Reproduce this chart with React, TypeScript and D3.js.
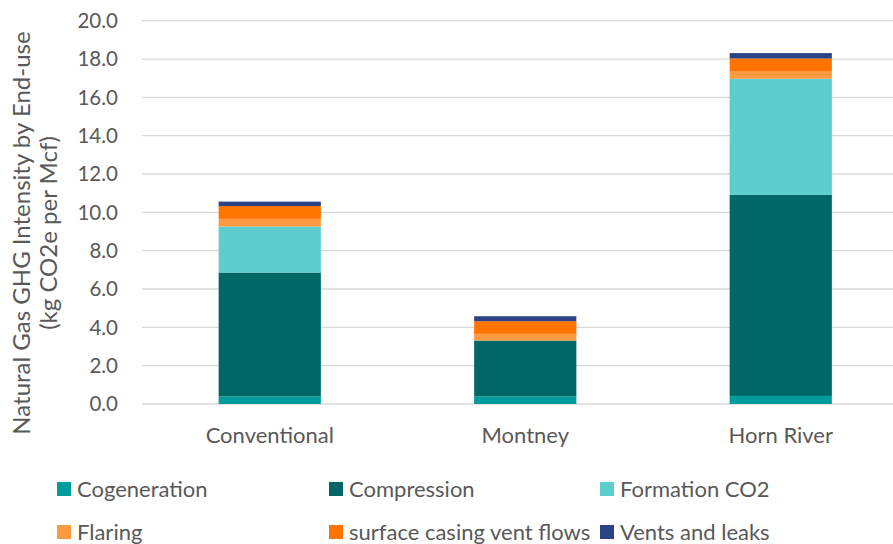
import React from "react";
import * as d3 from "d3";

const categories = ["Conventional", "Montney", "Horn River"];
const seriesNames = [
  "Cogeneration",
  "Compression",
  "Formation CO2",
  "Flaring",
  "surface casing vent flows",
  "Vents and leaks",
];
const cogeneration = [0.4, 0.4, 0.42];
const compression = [6.46, 2.91, 10.49];
const formationCO2 = [2.4, 0, 6.06];
const flaring = [0.4, 0.35, 0.37];
const surfaceCasing = [0.67, 0.66, 0.69];
const ventsLeaks = [0.23, 0.26, 0.28];
const yTicks = [0, 2, 4, 6, 8, 10, 12, 14, 16, 18, 20];
const colors = ["#009B9B", "#006666", "#5DCDCD", "#FF9A40", "#FF7300", "#2A4483"];

const W = 893;
const H = 544;
const FONT = "Lato, 'Open Sans', sans-serif";
const TEXT = "#595959";

export default function App() {
  const values = [cogeneration, compression, formationCO2, flaring, surfaceCasing, ventsLeaks];
  const rows = categories.map((c, i) => {
    const r: any = { cat: c };
    seriesNames.forEach((s, j) => (r[s] = values[j][i]));
    return r;
  });
  const stacked = d3.stack<any>().keys(seriesNames)(rows);

  const x = d3.scaleBand().domain(categories).range([142, 908.5]).paddingInner(0.6).paddingOuter(0.3);
  const y = d3.scaleLinear().domain([0, 20]).range([404, 20.7]);

  const legendPos = [
    [57, 489],
    [329, 489],
    [600, 489],
    [57, 532],
    [329, 532],
    [600, 532],
  ];

  return (
    <svg width={W} height={H} style={{ position: "absolute", left: 0, top: 0 }} fontFamily={FONT}>
      <rect width={W} height={H} fill="#fff" />
      {yTicks.map((t) => (
        <g key={t}>
          <line x1={142} x2={W} y1={y(t)} y2={y(t)} stroke="#D9D9D9" strokeWidth={t === 0 ? 1.5 : 1.3} />
          <text x={118} y={y(t)} dy="0.36em" textAnchor="end" fontSize={20.5} fill={TEXT}>
            {t.toFixed(1)}
          </text>
        </g>
      ))}
      {stacked.map((layer, j) => (
        <g key={layer.key} fill={colors[j]}>
          {layer.map((d, i) =>
            d[1] - d[0] > 0 ? (
              <rect
                key={i}
                x={x(categories[i])!}
                width={x.bandwidth()}
                y={y(d[1])}
                height={y(d[0]) - y(d[1])}
              />
            ) : null
          )}
        </g>
      ))}
      {categories.map((c) => (
        <text key={c} x={x(c)! + x.bandwidth() / 2} y={443} textAnchor="middle" fontSize={22} fill={TEXT}>
          {c}
        </text>
      ))}
      <g transform="translate(0,233) rotate(-90)">
        <text x={0} y={30} textAnchor="middle" fontSize={24} fill={TEXT}>
          Natural Gas GHG Intensity by End-use
        </text>
        <text x={0} y={57} textAnchor="middle" fontSize={24} fill={TEXT}>
          (kg CO2e per Mcf)
        </text>
      </g>
      {seriesNames.map((s, j) => (
        <g key={s} transform={`translate(${legendPos[j][0]},${legendPos[j][1]})`}>
          <rect x={0} y={-7} width={14} height={14} fill={colors[j]} />
          <text x={20} y={0} dy="0.36em" fontSize={22} fill={TEXT}>
            {s}
          </text>
        </g>
      ))}
    </svg>
  );
}
